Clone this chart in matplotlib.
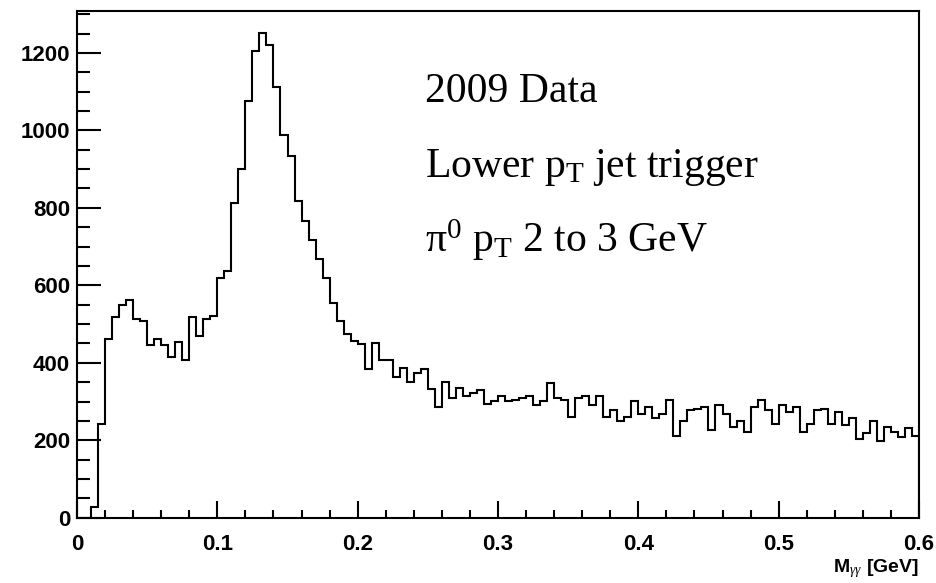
#Importing libraries
import numpy as np
import matplotlib.pyplot as plt
from matplotlib.ticker import MultipleLocator

#Histogram data (M_gg, 120 bins from 0 to 0.6 GeV)
x_lo, x_hi, n_bins = 0.0, 0.6, 120
counts = [0, 0, 28, 241, 461, 517, 549, 563, 512, 508,
          446, 461, 447, 415, 453, 407, 517, 470, 512, 521,
          618, 637, 813, 901, 1076, 1204, 1252, 1221, 1112, 988,
          933, 817, 766, 717, 668, 618, 555, 508, 475, 457,
          448, 383, 452, 407, 407, 364, 387, 350, 374, 383,
          332, 286, 351, 310, 336, 313, 323, 329, 294, 301,
          313, 301, 305, 310, 314, 290, 301, 347, 310, 305,
          259, 310, 314, 291, 314, 259, 277, 249, 259, 301,
          268, 286, 257, 268, 305, 212, 249, 278, 281, 286,
          226, 290, 268, 235, 250, 220, 286, 304, 278, 243,
          290, 273, 285, 220, 243, 278, 281, 243, 273, 239,
          257, 203, 218, 249, 199, 235, 222, 209, 231, 212]
y_max = 1308

labels = ["2009 Data",
          r"Lower p$_{\mathrm{T}}$ jet trigger",
          r"π$^{0}$ p$_{\mathrm{T}}$ 2 to 3 GeV"]

plt.rcParams['mathtext.fontset'] = 'custom'
plt.rcParams['mathtext.rm'] = 'Liberation Serif'
plt.rcParams['mathtext.it'] = 'Liberation Serif:italic'
plt.rcParams['mathtext.bf'] = 'Liberation Sans:bold'

edges = np.linspace(x_lo, x_hi, n_bins + 1)

fig = plt.figure(figsize=(9.36, 5.83), dpi=100)
ax = fig.add_axes([0.0823, 0.112, 0.8995, 0.869])

ax.stairs(counts, edges, color='black', linewidth=1.5, baseline=0)
ax.set_xlim(x_lo, x_hi)
ax.set_ylim(0, y_max)

#ROOT-like axes
for s in ax.spines.values():
    s.set_linewidth(1.5)
ax.xaxis.set_major_locator(MultipleLocator(0.1))
ax.xaxis.set_minor_locator(MultipleLocator(0.02))
ax.yaxis.set_major_locator(MultipleLocator(200))
ax.yaxis.set_minor_locator(MultipleLocator(50))
ax.tick_params(which='both', direction='in', top=False, right=False, width=1.5)
ax.tick_params(axis='x', which='major', length=12, pad=12)
ax.tick_params(axis='x', which='minor', length=6)
ax.tick_params(axis='y', which='major', length=17, pad=5)
ax.tick_params(axis='y', which='minor', length=9)
ax.xaxis.set_major_formatter(lambda v, p: '0' if abs(v) < 1e-9 else f'{v:.1f}')
ax.yaxis.set_major_formatter(lambda v, p: f'{v:.0f}')
for t in ax.get_xticklabels() + ax.get_yticklabels():
    t.set_fontfamily('Liberation Sans')
    t.set_fontweight('bold')
    t.set_fontsize(16)

ax.set_xlabel(r"M$_{\gamma\gamma}$ [GeV]", family='Liberation Sans', fontweight='bold',
              fontsize=14, loc='right', labelpad=1)

for i, txt in enumerate(labels):
    ax.text(0.248, 1073 - i * 194, txt, family='Liberation Serif', fontsize=30,
            ha='left', va='baseline')

plt.savefig('out.png', dpi=100)
